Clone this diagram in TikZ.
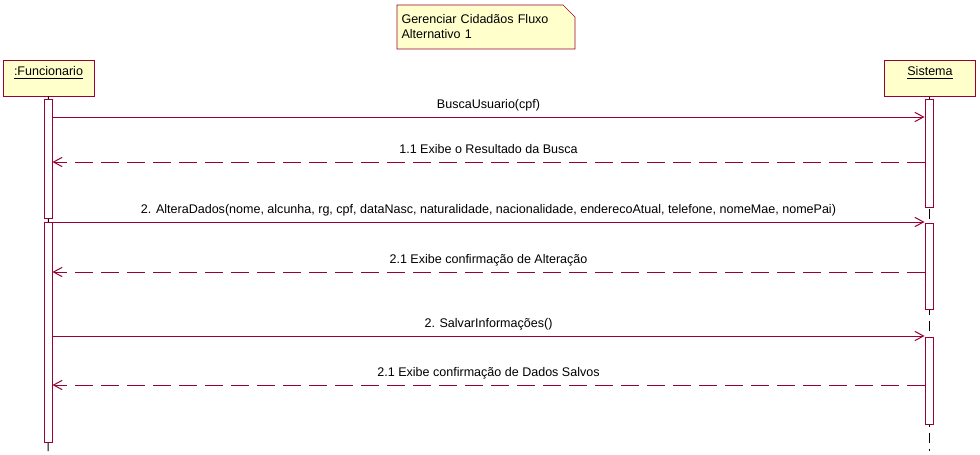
\documentclass[tikz,border=0pt]{standalone}
\usepackage{fontspec}
\setmainfont{Liberation Sans}
\usetikzlibrary{arrows.meta, positioning, fit, backgrounds}

\definecolor{roseline}{RGB}{153,0,51}
\definecolor{rosefill}{RGB}{255,255,204}

\begin{document}
\begin{tikzpicture}
   [
      x=0.75pt, y=-0.75pt, line width=0.75pt,
      font=\fontsize{9.4}{11.25}\selectfont,
      % Style for the lifeline heads: yellow box, name sits in the upper half
      actor/.style={rectangle, draw=roseline, fill=rosefill, minimum width=68.25pt, minimum height=27pt, text depth=10pt, inner sep=0pt},
      % Style for the activation bars
      activation/.style={rectangle, draw=roseline, fill=white, inner sep=0pt},
      % Style for the calls (solid) and the answers (dashed)
      call/.style={roseline, -{Straight Barb[length=6.5pt, width=7pt]}},
      reply/.style={call, dash pattern=on 13.5pt off 6pt},
      % Style for the message texts
      label node/.style={text=black, inner sep=1pt, text depth=0pt},
      % Style for the lifelines
      lifeline/.style={black},
      % Style for the note text
      note box/.style={rectangle, align=left, inner sep=3pt, text width=126.75pt, minimum height=32.25pt}
   ]

    \useasboundingbox (0,0) rectangle (980,454);

    % =======================================================
    % Note
    % =======================================================
    \node[note box, anchor=north west] (note) at (397,5) {Gerenciar Cidadãos Fluxo\\Alternativo 1};
    \begin{scope}[on background layer]
        \draw[roseline, fill=rosefill] (note.north west) -- ([xshift=-9pt]note.north east)
            -- ([yshift=-9pt]note.north east) -- (note.south east) -- (note.south west) -- cycle;
    \end{scope}

    % =======================================================
    % Lifelines
    % =======================================================
    \node[actor] (func) at (48.5,78) {\underline{:Funcionario}};
    \node[actor] (sist) at (930,78) {\underline{Sistema}};

    \coordinate (func end) at (48,451);
    \coordinate (sist end) at (929,451);
    \draw[lifeline] (func.south) -- (func end);
    \draw[lifeline, dash pattern=on 7.5pt off 4.5pt] (sist.south -| sist end) -- (sist end);

    % Activation bars
    \node[activation, fit={(44,99) (52,218)}] (fa1) {};
    \node[activation, fit={(44,222) (52,442)}] (fa2) {};
    \node[activation, fit={(925,99) (933,207)}] (sa1) {};
    \node[activation, fit={(925,223) (933,309)}] (sa2) {};
    \node[activation, fit={(925,337) (933,424)}] (sa3) {};

    % =======================================================
    % Messages
    % =======================================================
    \draw[call] (fa1.east |- 0,117) -- (sa1.west |- 0,117)
        node[label node, midway, above=5pt] {BuscaUsuario(cpf)};
    \draw[reply] (sa1.west |- 0,162) -- (fa1.east |- 0,162)
        node[label node, midway, above=5pt] {1.1 Exibe o Resultado da Busca};

    \draw[call] (fa2.east |- 0,222) -- (sa2.west |- 0,222)
        node[label node, midway, above=5pt] {2. AlteraDados(nome, alcunha, rg, cpf, dataNasc, naturalidade, nacionalidade, enderecoAtual, telefone, nomeMae, nomePai)};
    \draw[reply] (sa2.west |- 0,272) -- (fa2.east |- 0,272)
        node[label node, midway, above=5pt] {2.1 Exibe confirmação de Alteração};

    \draw[call] (fa2.east |- 0,336) -- (sa3.west |- 0,336)
        node[label node, midway, above=5pt] {2. SalvarInformações()};
    \draw[reply] (sa3.west |- 0,385) -- (fa2.east |- 0,385)
        node[label node, midway, above=5pt] {2.1 Exibe confirmação de Dados Salvos};

\end{tikzpicture}
\end{document}
